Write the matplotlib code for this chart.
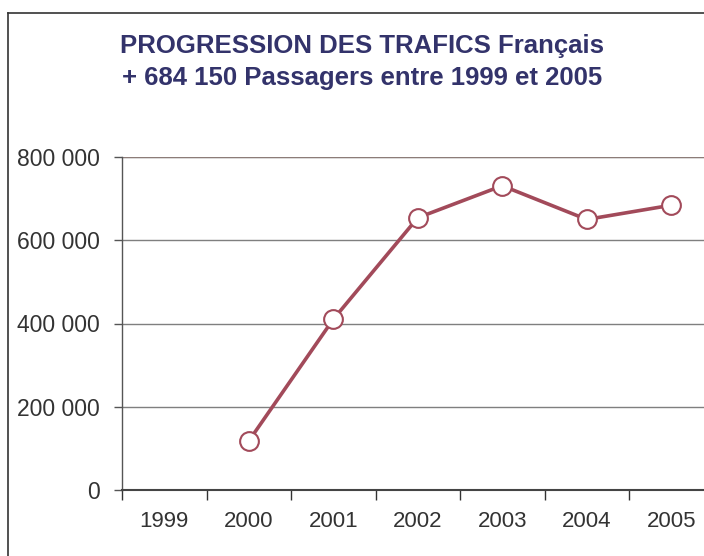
import numpy as np
import matplotlib
matplotlib.use("Agg")
import matplotlib.pyplot as plt
from matplotlib.ticker import FuncFormatter, FixedLocator
from matplotlib.lines import Line2D

plt.rcParams['font.family'] = ['Liberation Sans', 'DejaVu Sans']

# données
years = ['1999', '2000', '2001', '2002', '2003', '2004', '2005']
passagers = [np.nan, 117700, 410000, 654000, 731000, 650000, 684150]
y_ticks = [0, 200000, 400000, 600000, 800000]
title = "PROGRESSION DES TRAFICS Français\n+ 684 150 Passagers entre 1999 et 2005"

line_color = '#A24A5A'
title_color = '#33336B'
text_color = '#333333'

fig = plt.figure(figsize=(7.04, 5.56), dpi=100)
ax = fig.add_axes([122 / 704, 1 - 490 / 556, (713.5 - 122) / 704, (490 - 157) / 556])

x = np.arange(len(years))
ax.plot(x, passagers, color=line_color, lw=2.6, marker='o', ms=13.5,
        mfc='white', mec=line_color, mew=1.5, zorder=3)

ax.set_xlim(-0.5, len(years) - 0.5)
ax.set_ylim(0, 800000)

# graduations entre les catégories, libellés au centre
ax.set_xticks(x)
ax.set_xticklabels(years, fontsize=16, color=text_color)
ax.xaxis.set_minor_locator(FixedLocator(np.arange(-0.5, len(years), 1.0)))
ax.tick_params(axis='x', which='major', length=0, pad=15)
ax.tick_params(axis='x', which='minor', length=7, width=1, color='#333333', direction='out')

ax.set_yticks(y_ticks)
ax.yaxis.set_major_formatter(FuncFormatter(lambda v, p: f"{int(v):,}".replace(',', ' ')))
ax.tick_params(axis='y', length=6, width=1, color='#555555', labelsize=16.5,
               labelcolor=text_color, pad=10)

ax.grid(axis='y', color='#7f7f7f', lw=1)
ax.set_axisbelow(True)
for s in ['top', 'right']:
    ax.spines[s].set_visible(False)
ax.spines['left'].set_color('#555555')
ax.spines['left'].set_linewidth(1)
ax.spines['bottom'].set_color('#444444')
ax.spines['bottom'].set_linewidth(1.5)
ax.axhline(800000, color='#8C7C78', lw=1.6, zorder=2)

fig.text(362 / 704, 1 - 62 / 556, title, ha='center', va='center',
         fontsize=18.5, fontweight='bold', color=title_color, linespacing=1.42)

# cadre du graphique
fig.add_artist(Line2D([8 / 704, 8 / 704], [0, 1 - 13 / 556], transform=fig.transFigure,
                      color='#333333', lw=1.2))
fig.add_artist(Line2D([8 / 704, 1], [1 - 13 / 556, 1 - 13 / 556], transform=fig.transFigure,
                      color='#333333', lw=1.2))

fig.savefig('out.png', dpi=100)
